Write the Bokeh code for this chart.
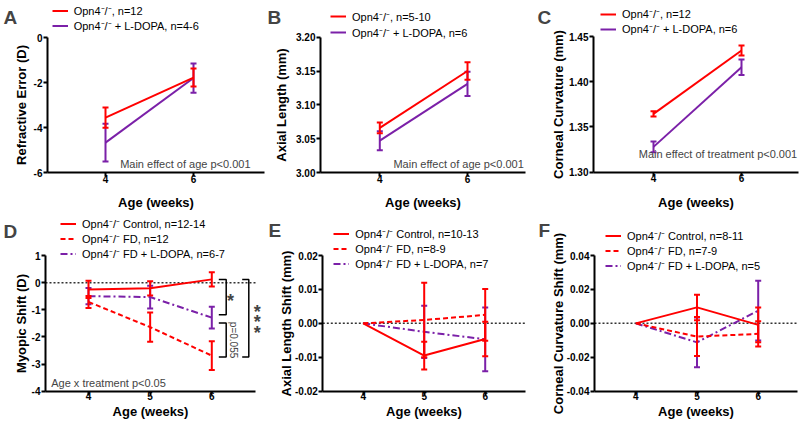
from bokeh.plotting import figure
from bokeh.layouts import column, row
from bokeh.models import (Range1d, FixedTicker, Legend, LegendItem, Label,
                          PrintfTickFormatter)
from bokeh.embed import file_html
from bokeh.resources import INLINE
import math

RED = "#FF0000"
PURPLE = "#7B20A8"
FONT = "Liberation Sans"
SUP = "\u207b/\u207b"

# ---------------- data ----------------
weeks_top = [4, 6]
a_ctrl = [-3.56, -1.78]
a_ctrl_sem = [0.45, 0.40]
a_ldopa = [-4.67, -1.80]
a_ldopa_sem = [0.84, 0.65]

b_ctrl = [3.066, 3.150]
b_ctrl_sem = [0.008, 0.013]
b_ldopa = [3.047, 3.131]
b_ldopa_sem = [0.014, 0.018]

c_ctrl = [1.3645, 1.4345]
c_ctrl_sem = [0.003, 0.0055]
c_ldopa = [1.328, 1.416]
c_ldopa_sem = [0.006, 0.0085]

weeks_bot = [4, 5, 6]
d_ctrl = [-0.25, -0.21, 0.12]
d_ctrl_sem = [0.32, 0.26, 0.26]
d_fd = [-0.71, -1.64, -2.69]
d_fd_sem = [0.22, 0.54, 0.53]
d_ldopa = [-0.50, -0.53, -1.29]
d_ldopa_sem = [0.30, 0.42, 0.40]

e_ctrl = [0.0, -0.0095, -0.0046]
e_ctrl_sem = [0, 0.0041, 0.0051]
e_fd = [0.0, 0.0010, 0.0025]
e_fd_sem = [0, 0.0110, 0.0076]
e_ldopa = [0.0, -0.0025, -0.0047]
e_ldopa_sem = [0, 0.0077, 0.0094]

f_ctrl = [0.0, 0.0094, -0.0009]
f_ctrl_sem = [0, 0.0075, 0.0103]
f_fd = [0.0, -0.0078, -0.0062]
f_fd_sem = [0, 0.0115, 0.0074]
f_ldopa = [0.0, -0.0112, 0.0075]
f_ldopa_sem = [0, 0.0147, 0.0176]

a_yticks = [-6, -4, -2, 0]
a_ylabels = ["-6", "-4", "-2", "0"]
b_yticks = [3.00, 3.05, 3.10, 3.15, 3.20]
b_ylabels = ["3.00", "3.05", "3.10", "3.15", "3.20"]
c_yticks = [1.30, 1.35, 1.40, 1.45]
c_ylabels = ["1.30", "1.35", "1.40", "1.45"]
d_yticks = [-4, -3, -2, -1, 0, 1]
d_ylabels = ["-4", "-3", "-2", "-1", "0", "1"]
e_yticks = [-0.02, -0.01, 0.0, 0.01, 0.02]
e_ylabels = ["-0.02", "-0.01", "0.00", "0.01", "0.02"]
f_yticks = [-0.04, -0.02, 0.0, 0.02, 0.04]
f_ylabels = ["-0.04", "-0.02", "0.00", "0.02", "0.04"]

# significance brackets in D (top, bottom)
d_brackets = [(0.12, -1.18), (-1.49, -2.74), (0.12, -2.74)]


class Panel:
    """A figure whose frame fills the whole figure; axes sit at fixed spots."""

    def __init__(self, fx, fy, w, h, xa, ya, ax_left, ax_right, yr, xticks,
                 yticks, ylabels, ylab, fmt, ylab_stand, xlab_stand, xaxlab_stand):
        self.fx, self.fy, self.w, self.h = fx, fy, w, h
        (v1, p1), (v2, p2) = xa
        kx = (v2 - v1) / (p2 - p1)
        self.xv = lambda px: v1 + (px - p1) * kx
        (u1, q1), (u2, q2) = ya
        ky = (u2 - u1) / (q2 - q1)
        self.yv = lambda py: u1 + (py - q1) * ky
        self.xbounds = (self.xv(ax_left), self.xv(ax_right))
        p = figure(width=w, height=h,
                   x_range=Range1d(self.xv(fx), self.xv(fx + w)),
                   y_range=Range1d(self.yv(fy + h), self.yv(fy)),
                   output_backend="svg", toolbar_location=None, title=None,
                   min_border_left=0, min_border_right=0,
                   min_border_top=0, min_border_bottom=0)
        p.outline_line_color = None
        p.grid.visible = False
        p.background_fill_color = "white"
        p.border_fill_color = "white"
        p.xaxis.ticker = FixedTicker(ticks=xticks)
        p.yaxis.ticker = FixedTicker(ticks=yticks)
        if fmt:
            p.yaxis.formatter = PrintfTickFormatter(format=fmt)
        p.yaxis.major_label_overrides = dict(zip(yticks, ylabels))
        p.xaxis.axis_label = "Age (weeks)"
        p.yaxis.axis_label = ylab
        p.yaxis.fixed_location = self.xbounds[0]
        p.yaxis.bounds = yr
        p.xaxis.fixed_location = yr[0]
        p.xaxis.bounds = self.xbounds
        for ax in p.axis:
            ax.axis_line_width = 2
            ax.axis_line_color = "black"
            ax.major_tick_line_width = 2
            ax.major_tick_line_color = "black"
            ax.major_tick_in = 0
            ax.major_tick_out = 4
            ax.minor_tick_line_color = None
            ax.major_label_text_font = FONT
            ax.major_label_text_font_style = "bold"
            ax.major_label_text_font_size = "10px"
            ax.major_label_text_color = "black"
            ax.axis_label_text_font = FONT
            ax.axis_label_text_font_style = "bold"
            ax.axis_label_text_font_size = "13px"
            ax.axis_label_text_color = "black"
        p.yaxis.major_label_standoff = 1
        p.yaxis.axis_label_standoff = ylab_stand
        p.xaxis.major_label_standoff = xlab_stand
        p.xaxis.axis_label_standoff = xaxlab_stand
        self.p = p

    # screen pixel -> frame-relative screen units
    def sx(self, px):
        return px - self.fx

    def sy(self, py):
        return self.fy + self.h - py

    def series(self, x, mean, sem, color, dash="solid"):
        p = self.p
        xs = [xi for xi, s in zip(x, sem) if s]
        lo = [m - s for m, s in zip(mean, sem) if s]
        hi = [m + s for m, s in zip(mean, sem) if s]
        p.segment(xs, lo, xs, hi, line_color=color, line_width=2)
        p.scatter(xs, lo, marker="dash", size=6, line_color=color, line_width=2)
        p.scatter(xs, hi, marker="dash", size=6, line_color=color, line_width=2)
        return p.line(x, mean, line_color=color, line_width=2, line_dash=dash)

    def legend(self, items, gx, row1, lh):
        bottom = row1 - lh / 2 + len(items) * lh
        lg = Legend(items=[LegendItem(label=t, renderers=[r]) for t, r in items],
                    location=(self.sx(gx), self.sy(bottom)),
                    padding=0, margin=0, spacing=0,
                    label_height=lh, glyph_height=lh, glyph_width=16,
                    label_standoff=6, label_text_font=FONT,
                    label_text_font_size="11px", label_text_color="black",
                    background_fill_alpha=0, border_line_alpha=0)
        self.p.add_layout(lg)

    def letter(self, t, px, baseline):
        self.p.add_layout(Label(x=self.sx(px), y=self.sy(baseline), x_units="screen",
                                y_units="screen", text=t, text_font=FONT,
                                text_font_style="bold", text_font_size="19px",
                                text_baseline="alphabetic"))

    def note(self, t, px, py, align):
        self.p.add_layout(Label(x=self.sx(px), y=self.sy(py), x_units="screen",
                                y_units="screen", text=t, text_font=FONT,
                                text_font_size="11px", text_align=align,
                                text_baseline="middle"))

    def zero_line(self):
        self.p.line(list(self.xbounds), [0, 0], line_color="#333333",
                    line_width=1.5, line_dash="2 2")


TOP_Y, TOP_H = 0, 212
BOT_Y, BOT_H = 212, 213
C1, C2, C3 = 0, 265, 530
W1, W2, W3 = 265, 265, 270

# ---------------- top row ----------------
A = Panel(C1, TOP_Y, W1, TOP_H, ((4, 105), (6, 193)), ((0, 37), (-6, 172)), 47, 264,
          (-6, 0), weeks_top, a_yticks, a_ylabels, "Refractive Error (D)", None, 2, -2, 9)
rA2 = A.series(weeks_top, a_ldopa, a_ldopa_sem, PURPLE)
rA1 = A.series(weeks_top, a_ctrl, a_ctrl_sem, RED)
A.legend([("Opn4" + SUP + ", n=12", rA1), ("Opn4" + SUP + " + L-DOPA, n=4-6", rA2)], 51.7, 10, 15)
A.note("Main effect of age p<0.001", 250, 163, "right")
A.letter("A", 3, 17)

B = Panel(C2, TOP_Y, W2, TOP_H, ((4, 379.3), (6, 467)), ((3.2, 36.7), (3.0, 172)), 320, 525,
          (3.0, 3.2), weeks_top, b_yticks, b_ylabels, "Axial Length (mm)", "%.2f", 4, -2, 9)
rB2 = B.series(weeks_top, b_ldopa, b_ldopa_sem, PURPLE)
rB1 = B.series(weeks_top, b_ctrl, b_ctrl_sem, RED)
B.legend([("Opn4" + SUP + ", n=5-10", rB1), ("Opn4" + SUP + " + L-DOPA, n=6", rB2)], 330, 16, 16)
B.note("Main effect of age p<0.001", 523.3, 163.3, "right")
B.letter("B", 267, 17)

C = Panel(C3, TOP_Y, W3, TOP_H, ((4, 653), (6, 741)), ((1.45, 36), (1.30, 171.7)), 593, 798,
          (1.30, 1.45), weeks_top, c_yticks, c_ylabels, "Corneal Curvature (mm)", "%.2f", 0, -2, 9)
rC2 = C.series(weeks_top, c_ldopa, c_ldopa_sem, PURPLE)
rC1 = C.series(weeks_top, c_ctrl, c_ctrl_sem, RED)
C.legend([("Opn4" + SUP + ", n=12", rC1), ("Opn4" + SUP + " + L-DOPA, n=6", rC2)], 600, 15, 14)
C.note("Main effect of treatment p<0.001", 796.7, 153.3, "right")
C.letter("C", 537, 17)

# ---------------- bottom row ----------------
D = Panel(C1, BOT_Y, W1, BOT_H, ((4, 88), (6, 211.3)), ((1, 255), (-4, 390.7)), 45, 255,
          (-4, 1), weeks_bot, d_yticks, d_ylabels, "Myopic Shift (D)", None, 0, -3, 0)
D.zero_line()
rD3 = D.series(weeks_bot, d_ldopa, d_ldopa_sem, PURPLE, "7 3 2 3")
rD2 = D.series(weeks_bot, d_fd, d_fd_sem, RED, "5 3")
rD1 = D.series(weeks_bot, d_ctrl, d_ctrl_sem, RED)
D.legend([("Opn4" + SUP + " Control, n=12-14", rD1), ("Opn4" + SUP + " FD, n=12", rD2),
          ("Opn4" + SUP + " FD + L-DOPA, n=6-7", rD3)], 60, 223.3, 15)
D.note("Age x treatment p<0.05", 50.7, 382.7, "left")
D.letter("D", 3, 230.7)

# significance brackets
bpx = [(218.3, 225.7), (218.3, 225.7), (241.7, 248.3)]
for (x0, x1), (y0, y1) in zip(bpx, d_brackets):
    D.p.line([D.xv(x0), D.xv(x1), D.xv(x1), D.xv(x0)], [y0, y0, y1, y1],
             line_color="black", line_width=1.5)
mid1 = sum(d_brackets[0]) / 2
mid2 = sum(d_brackets[1]) / 2
mid3 = sum(d_brackets[2]) / 2
STAR = dict(text_font=FONT, text_font_style="bold", text_font_size="18px",
            text_align="center", text_baseline="middle")
D.p.add_layout(Label(x=D.xv(230), y=mid1, y_offset=-4, text="*", **STAR))
for off in (10.5, 0, -10.5):
    D.p.add_layout(Label(x=D.xv(256.7), y=mid3, y_offset=off - 4, text="*", **STAR))
D.p.add_layout(Label(x=D.xv(233.3), y=mid2, text="p=0.055", angle=-math.pi / 2,
                     text_font=FONT, text_font_size="10px", text_color="#444444",
                     text_align="center", text_baseline="middle"))

E = Panel(C2, BOT_Y, W2, BOT_H, ((4, 362.7), (6, 484.7)), ((0.02, 255), (-0.02, 390.7)), 322.3, 525,
          (-0.02, 0.02), weeks_bot, e_yticks, e_ylabels, "Axial Length Shift (mm)", "%.2f", -2, -3, 0)
E.zero_line()
rE3 = E.series(weeks_bot, e_ldopa, e_ldopa_sem, PURPLE, "7 3 2 3")
rE2 = E.series(weeks_bot, e_fd, e_fd_sem, RED, "5 3")
rE1 = E.series(weeks_bot, e_ctrl, e_ctrl_sem, RED)
E.legend([("Opn4" + SUP + " Control, n=10-13", rE1), ("Opn4" + SUP + " FD, n=8-9", rE2),
          ("Opn4" + SUP + " FD + L-DOPA, n=7", rE3)], 333.3, 233.3, 15)
E.letter("E", 268, 230)

F = Panel(C3, BOT_Y, W3, BOT_H, ((4, 635.3), (6, 757.7)), ((0.04, 255), (-0.04, 390.7)), 594, 797,
          (-0.04, 0.04), weeks_bot, f_yticks, f_ylabels, "Corneal Curvature Shift (mm)", "%.2f", -2, -3, 0)
F.zero_line()
rF3 = F.series(weeks_bot, f_ldopa, f_ldopa_sem, PURPLE, "7 3 2 3")
rF2 = F.series(weeks_bot, f_fd, f_fd_sem, RED, "5 3")
rF1 = F.series(weeks_bot, f_ctrl, f_ctrl_sem, RED)
F.legend([("Opn4" + SUP + " Control, n=8-11", rF1), ("Opn4" + SUP + " FD, n=7-9", rF2),
          ("Opn4" + SUP + " FD + L-DOPA, n=5", rF3)], 605, 235, 15)
F.letter("F", 538, 230)

layout = column(row(A.p, B.p, C.p), row(D.p, E.p, F.p))
open("out.html", "w").write(file_html(layout, INLINE))
